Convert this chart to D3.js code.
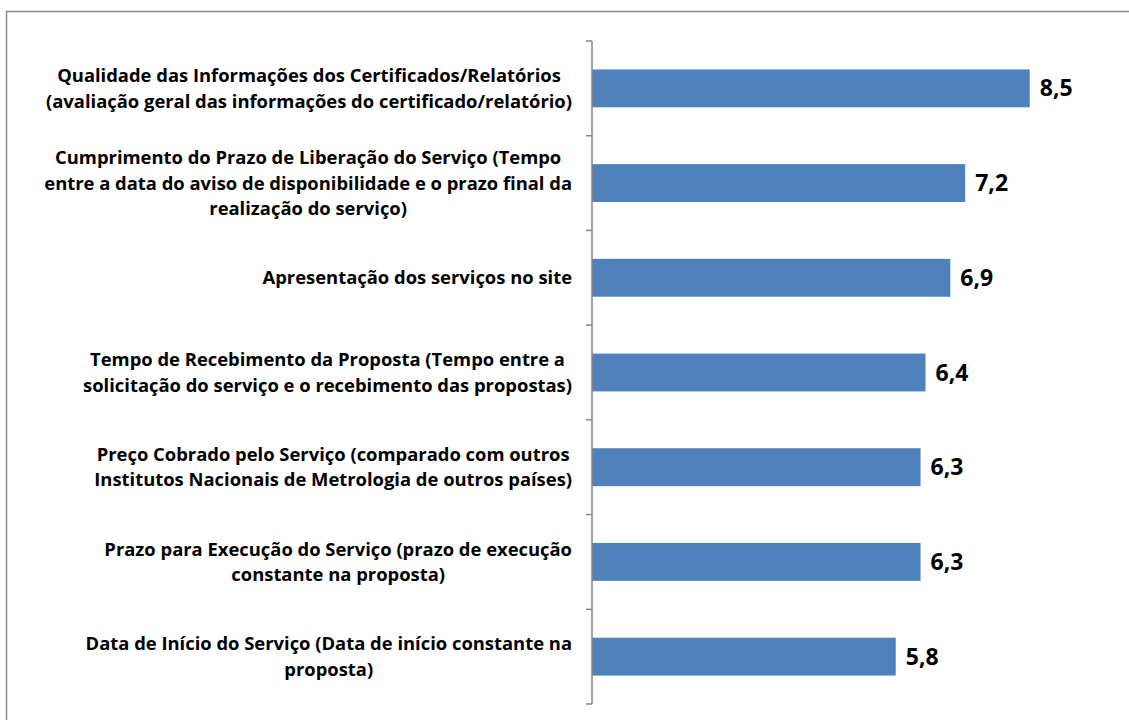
<!DOCTYPE html>
<html>
<head>
<meta charset="utf-8">
<script src="https://cdn.jsdelivr.net/npm/d3@7"></script>
<style>
  html, body { margin: 0; padding: 0; background: #fff; }
  svg { display: block; }
  .cat text { font-family: "Open Sans", Lato, sans-serif; font-weight: bold; font-size: 18.4px; fill: #000; }
  .val { font-family: "Open Sans", Lato, sans-serif; font-weight: bold; font-size: 23px; fill: #000; }
</style>
</head>
<body>
<script>

// Categories, top to bottom, already broken into lines.
var categories = [
  ['Qualidade das Informações dos Certificados/Relatórios',
   '(avaliação geral das informações do certificado/relatório)'],
  ['Cumprimento do Prazo de Liberação do Serviço (Tempo',
   'entre a data do aviso de disponibilidade e o prazo final da',
   'realização do serviço)'],
  ['Apresentação dos serviços no site'],
  ['Tempo de Recebimento da Proposta (Tempo entre a',
   'solicitação do serviço e o recebimento das propostas)'],
  ['Preço Cobrado pelo Serviço (comparado com outros',
   'Institutos Nacionais de Metrologia de outros países)'],
  ['Prazo para Execução do Serviço (prazo de execução',
   'constante na proposta)'],
  ['Data de Início do Serviço (Data de início constante na',
   'proposta)']
];

var values = [8.5, 7.2, 6.9, 6.4, 6.3, 6.3, 5.8];

var W = 1129, H = 720;
var axisX = 592, plotTop = 41, plotBottom = 704;

var svg = d3.select('body').append('svg')
  .attr('width', W).attr('height', H);

// Chart frame (right and bottom edges fall outside the picture).
svg.append('rect')
  .attr('x', 6.5).attr('y', 11.5)
  .attr('width', W + 10).attr('height', H + 10)
  .attr('fill', 'none')
  .attr('stroke', '#8c8c8c')
  .attr('stroke-width', 1.5);

var y = d3.scaleBand()
  .domain(d3.range(categories.length))
  .range([plotTop, plotBottom])
  .paddingInner(0.6)
  .paddingOuter(0.3);

var x = d3.scaleLinear()
  .domain([-0.32, 10])
  .range([axisX, axisX + 10.32 * 49.63]);

// Bars.
svg.selectAll('rect.bar')
  .data(values)
  .enter().append('rect')
  .attr('class', 'bar')
  .attr('x', axisX)
  .attr('y', function(d, i) { return y(i); })
  .attr('width', function(d) { return x(d) - axisX; })
  .attr('height', y.bandwidth())
  .attr('fill', '#4F81BD');

// Value labels.
svg.selectAll('text.val')
  .data(values)
  .enter().append('text')
  .attr('class', 'val')
  .attr('x', function(d) { return x(d) + 10; })
  .attr('y', function(d, i) { return y(i) + y.bandwidth() / 2; })
  .attr('dy', '0.35em')
  .text(function(d) { return d3.format('.1f')(d).replace('.', ','); });

// Category axis: vertical line with ticks between categories.
var step = (plotBottom - plotTop) / categories.length;
var g = svg.append('g');
g.append('line')
  .attr('x1', axisX).attr('x2', axisX)
  .attr('y1', plotTop).attr('y2', plotBottom)
  .attr('stroke', '#868686').attr('stroke-width', 1.5);
g.selectAll('line.tick')
  .data(d3.range(categories.length + 1))
  .enter().append('line')
  .attr('class', 'tick')
  .attr('x1', axisX - 6).attr('x2', axisX)
  .attr('y1', function(i) { return plotTop + i * step; })
  .attr('y2', function(i) { return plotTop + i * step; })
  .attr('stroke', '#868686').attr('stroke-width', 1.5);

// Category labels: lines centred within the block, block right-aligned.
var lineH = 25.5, labelRight = 572;
var cats = svg.selectAll('g.cat')
  .data(categories)
  .enter().append('g')
  .attr('class', 'cat');

cats.each(function(lines, i) {
  var grp = d3.select(this);
  var cy = y(i) + y.bandwidth() / 2;
  var t = grp.selectAll('text')
    .data(lines)
    .enter().append('text')
    .attr('y', function(d, j) {
      return cy + (j - (lines.length - 1) / 2) * lineH;
    })
    .attr('dy', '0.35em')
    .attr('text-anchor', 'middle')
    .text(function(d) { return d; });
  var maxW = d3.max(t.nodes(), function(n) { return n.getComputedTextLength(); });
  t.attr('x', labelRight - maxW / 2);
});

</script>
</body>
</html>
